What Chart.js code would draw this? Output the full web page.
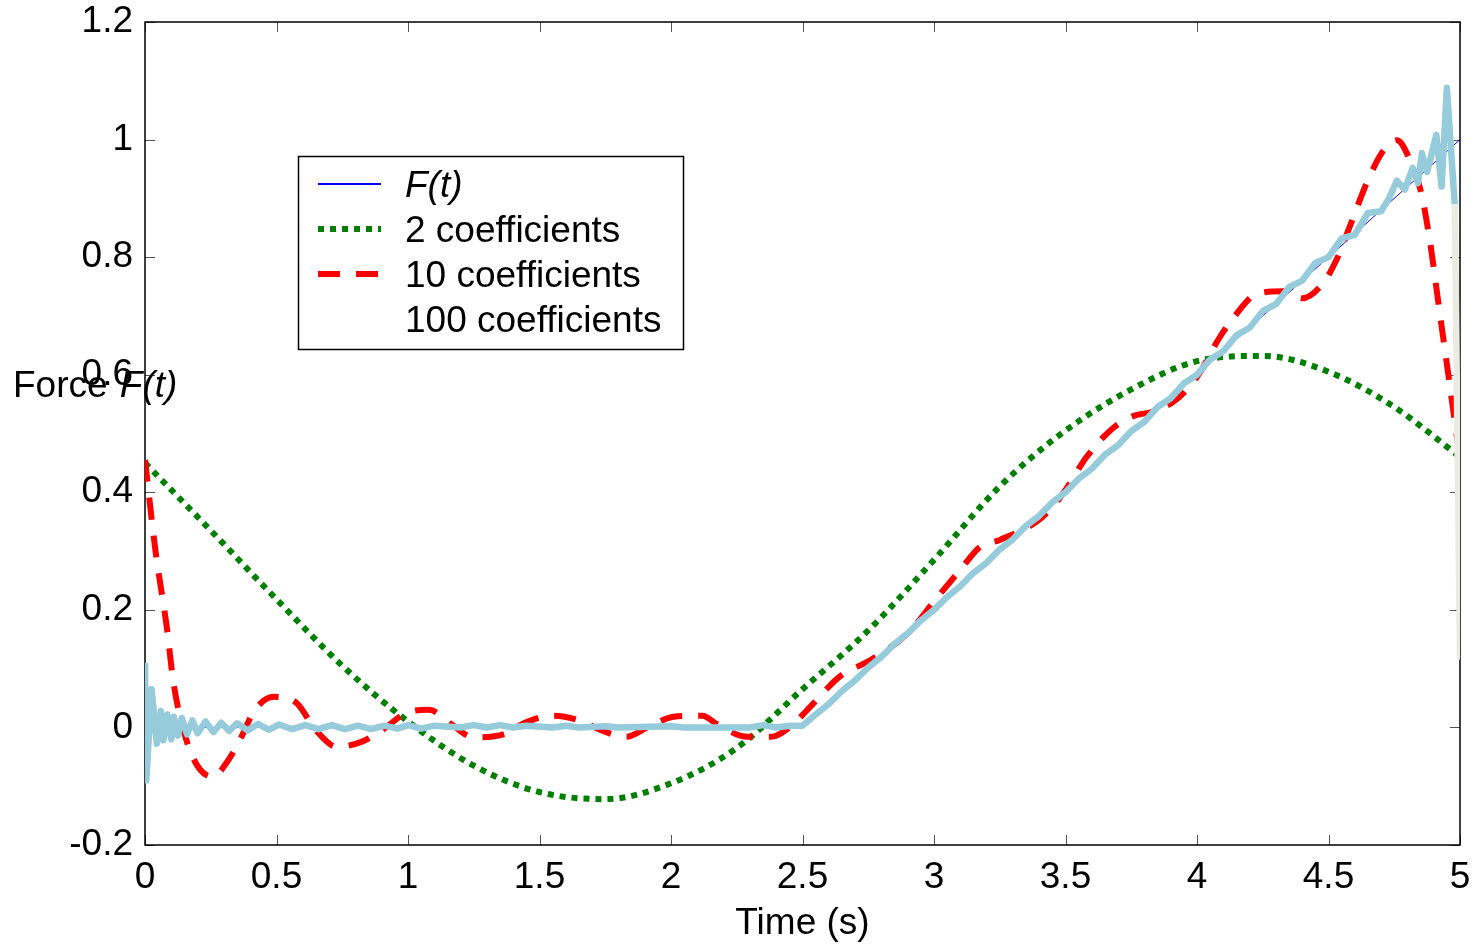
<!DOCTYPE html>
<html>
<head>
<meta charset="utf-8">
<script src="https://cdn.jsdelivr.net/npm/chart.js@4.4.0/dist/chart.umd.min.js"></script>
<style>
  body { margin: 0; background: #fff; }
  #wrap { width: 1477px; height: 948px; }
</style>
</head>
<body>
<div id="wrap"><canvas id="forceChart" width="1477" height="948"></canvas></div>
<script>
// F(t): zero, then a ramp up to 1
const timeExact = [0, 2.5, 5];
const forceExact = [0, 0, 1];

// 2 coefficients
const time2 = [0, 0.25, 0.5, 0.75, 1.0, 1.25, 1.5, 1.75, 2.0, 2.25, 2.5, 2.75, 3.0, 3.25, 3.5, 3.75, 4.0, 4.25, 4.5, 4.75, 5.0];
const force2 = [0.45, 0.335, 0.218, 0.105, 0.01, -0.065, -0.11, -0.122, -0.095, -0.035, 0.065, 0.165, 0.285, 0.41, 0.505, 0.575, 0.623, 0.632, 0.605, 0.545, 0.46];

// 10 coefficients
const time10 = [0, 0.04, 0.083, 0.107, 0.135, 0.17, 0.21, 0.26, 0.31, 0.36, 0.41, 0.45, 0.49, 0.54, 0.58, 0.65, 0.73, 0.82, 0.9, 1.0,
  1.08, 1.16, 1.25, 1.375, 1.44, 1.55, 1.665, 1.73, 1.83, 1.91, 2.01, 2.12, 2.17, 2.29, 2.38, 2.45, 2.54, 2.64, 2.76, 2.9,
  3.01, 3.1, 3.175, 3.25, 3.39, 3.45, 3.5, 3.58, 3.68, 3.76, 3.83, 3.91, 3.96, 4.01, 4.08, 4.14, 4.23, 4.33, 4.4, 4.48,
  4.53, 4.58, 4.65, 4.71, 4.76, 4.81, 4.85, 4.885, 4.92, 4.96, 5.0];
const force10 = [0.455, 0.30, 0.17, 0.08, 0.015, -0.038, -0.072, -0.084, -0.06, -0.022, 0.024, 0.045, 0.052, 0.05, 0.04, -0.005, -0.033, -0.025, -0.005, 0.026,
  0.03, 0.007, -0.017, -0.01, 0.007, 0.02, 0.01, -0.004, -0.016, 0, 0.018, 0.02, 0.007, -0.016, -0.016, 0, 0.04, 0.086, 0.115, 0.16,
  0.22, 0.268, 0.307, 0.319, 0.35, 0.375, 0.404, 0.46, 0.509, 0.53, 0.537, 0.554, 0.574, 0.603, 0.659, 0.698, 0.738, 0.742, 0.73, 0.756,
  0.795, 0.851, 0.931, 0.982, 0.999, 0.965, 0.914, 0.829, 0.715, 0.586, 0.455];

// 100 coefficients
const time100 = [0, 0.005, 0.025, 0.045, 0.06, 0.07, 0.085, 0.1, 0.11, 0.125, 0.14, 0.16, 0.18, 0.2, 0.23, 0.26, 0.29, 0.32, 0.35, 0.39,
  0.43, 0.47, 0.51, 0.56, 0.61, 0.66, 0.71, 0.76, 0.81, 0.86, 0.91, 0.96, 1.0, 1.05, 1.1, 1.2, 1.25, 1.3, 1.35, 1.4,
  1.45, 1.55, 1.6, 1.65, 1.75, 1.8, 2.0, 2.05, 2.3, 2.35, 2.4, 2.45, 2.5, 2.55, 2.6, 2.65, 2.7, 2.75, 2.8, 2.85,
  2.9, 2.95, 3.0, 3.05, 3.1, 3.15, 3.2, 3.25, 3.3, 3.35, 3.4, 3.45, 3.5, 3.55, 3.6, 3.65, 3.7, 3.75, 3.8, 3.85,
  3.9, 3.95, 4.0, 4.05, 4.1, 4.15, 4.2, 4.25, 4.3, 4.35, 4.4, 4.45, 4.5, 4.55, 4.6, 4.65, 4.7, 4.73, 4.76, 4.79,
  4.82, 4.84, 4.855, 4.875, 4.91, 4.93, 4.95, 4.98, 5.0];
const force100 = [0.11, -0.09, 0.065, -0.028, 0.028, -0.022, 0.022, -0.02, 0.018, -0.014, 0.016, -0.012, 0.012, -0.01, 0.01, -0.008, 0.008, -0.006, 0.007, -0.005,
  0.006, -0.004, 0.005, -0.003, 0.004, -0.003, 0.004, -0.003, 0.003, -0.003, 0.003, -0.002, 0.004, -0.002, 0.003, 0, 0.004, 0, 0.004, 0,
  0.003, 0, 0.003, 0, 0.002, 0, 0.002, 0, 0, 0.004, 0, 0.003, 0.003, 0.022, 0.04, 0.062, 0.08, 0.102, 0.12, 0.142,
  0.16, 0.182, 0.2, 0.222, 0.24, 0.263, 0.28, 0.303, 0.32, 0.343, 0.36, 0.383, 0.4, 0.423, 0.44, 0.464, 0.48, 0.504, 0.52, 0.545,
  0.56, 0.585, 0.6, 0.626, 0.64, 0.667, 0.68, 0.708, 0.72, 0.749, 0.76, 0.79, 0.8, 0.832, 0.838, 0.875, 0.878, 0.9, 0.93, 0.915,
  0.952, 0.926, 0.977, 0.945, 1.008, 0.92, 1.088, 0.89, 0.115];

const FONT = "'Liberation Sans', Arial, Helvetica, sans-serif";
const FONT_SIZE = 37;

function toPoints(xs, ys) {
    return xs.map((x, i) => ({ x: x, y: ys[i] }));
}

// 0.0 -> "0", 1.0 -> "1", like the original axes
function tickText(v) {
    return String(Number(v.toFixed(1)));
}

// keep the plot box where the original has it: no extra room for edge labels
function noEdgePadding(s) {
    s.paddingTop = 0;
    s.paddingBottom = 0;
    s.paddingLeft = 0;
    s.paddingRight = 0;
}

// Box with inward tick marks, the legend inside the plot and the y label
const frameAndLegend = {
    id: 'frameAndLegend',
    beforeDatasetsDraw(chart) {
        const { ctx, chartArea: a, scales } = chart;
        ctx.save();
        ctx.strokeStyle = '#555';
        ctx.lineWidth = 1;
        ctx.beginPath();
        scales.x.ticks.forEach(t => {
            const px = Math.round(scales.x.getPixelForValue(t.value)) + 0.5;
            ctx.moveTo(px, a.bottom); ctx.lineTo(px, a.bottom - 10);
            ctx.moveTo(px, a.top); ctx.lineTo(px, a.top + 10);
        });
        scales.y.ticks.forEach(t => {
            const py = Math.round(scales.y.getPixelForValue(t.value)) + 0.5;
            ctx.moveTo(a.left, py); ctx.lineTo(a.left + 10, py);
            ctx.moveTo(a.right, py); ctx.lineTo(a.right - 10, py);
        });
        ctx.stroke();
        ctx.strokeStyle = '#000';
        ctx.lineWidth = 1.5;
        ctx.strokeRect(a.left, a.top, a.right - a.left, a.bottom - a.top);
        ctx.restore();
    },
    afterDraw(chart) {
        const ctx = chart.ctx;
        ctx.save();

        // legend
        ctx.fillStyle = '#fff';
        ctx.fillRect(298, 156, 385, 193);
        ctx.strokeStyle = '#000';
        ctx.lineWidth = 1.5;
        ctx.strokeRect(298.5, 156.5, 385, 193);
        chart.data.datasets.forEach((ds, i) => {
            const y = 184 + i * 45;
            ctx.save();
            ctx.strokeStyle = ds.legendColor || ds.borderColor;
            ctx.lineWidth = ds.legendWidth || ds.borderWidth;
            ctx.setLineDash(ds.borderDash || []);
            ctx.beginPath();
            ctx.moveTo(318, y);
            ctx.lineTo(381, y);
            ctx.stroke();
            ctx.restore();
            ctx.fillStyle = '#000';
            ctx.textBaseline = 'alphabetic';
            ctx.font = (ds.legendItalic ? 'italic ' : '') + FONT_SIZE + 'px ' + FONT;
            ctx.fillText(ds.label, 405, y + 13);
        });

        // y axis label, horizontal, over the ticks as in the original
        ctx.fillStyle = '#000';
        ctx.textBaseline = 'alphabetic';
        ctx.font = FONT_SIZE + 'px ' + FONT;
        const head = 'Force ';
        ctx.fillText(head, 13, 397);
        const w = ctx.measureText(head).width;
        ctx.font = 'italic ' + FONT_SIZE + 'px ' + FONT;
        ctx.fillText('F(t)', 15 + w, 397);
        ctx.restore();
    }
};

new Chart(document.getElementById('forceChart'), {
    type: 'line',
    data: {
        datasets: [{
            label: 'F(t)',
            data: toPoints(timeExact, forceExact),
            borderColor: '#0000ff',
            borderWidth: 1,
            legendWidth: 2,
            legendItalic: true,
            order: 4
        }, {
            label: '2 coefficients',
            data: toPoints(time2, force2),
            borderColor: '#008000',
            borderWidth: 6,
            borderDash: [6, 6],
            cubicInterpolationMode: 'monotone',
            order: 3
        }, {
            label: '10 coefficients',
            data: toPoints(time10, force10),
            borderColor: '#ff0000',
            borderWidth: 6,
            borderDash: [22, 16],
            cubicInterpolationMode: 'monotone',
            order: 2
        }, {
            label: '100 coefficients',
            data: toPoints(time100, force100),
            borderColor: '#96cbdb',
            borderWidth: 6.5,
            legendColor: '#ffffff',  // sample line is not visible in the original
            segment: {
                borderColor: c => c.p1DataIndex === time100.length - 1 ? '#ecebe3' : undefined
            },
            order: 1
        }]
    },
    options: {
        responsive: false,
        animation: false,
        devicePixelRatio: 1,
        layout: { padding: { top: 22, right: 17, bottom: 0, left: 0 } },
        elements: {
            point: { radius: 0 },
            line: { tension: 0, borderCapStyle: 'butt', borderJoinStyle: 'round' }
        },
        plugins: {
            legend: { display: false },
            tooltip: { enabled: false }
        },
        scales: {
            x: {
                type: 'linear',
                min: 0,
                max: 5,
                afterFit: s => { s.height = 103; noEdgePadding(s); },
                grid: { display: false, drawTicks: false },
                border: { display: false },
                ticks: {
                    stepSize: 0.5,
                    autoSkip: false,
                    maxRotation: 0,
                    padding: 11,
                    color: '#000',
                    font: { family: FONT, size: FONT_SIZE },
                    callback: v => tickText(v)
                },
                title: {
                    display: true,
                    text: 'Time (s)',
                    color: '#000',
                    font: { family: FONT, size: FONT_SIZE },
                    padding: { top: 0, bottom: 2 }
                }
            },
            y: {
                type: 'linear',
                min: -0.2,
                max: 1.2,
                afterFit: s => { s.width = 145; noEdgePadding(s); },
                grid: { display: false, drawTicks: false },
                border: { display: false },
                ticks: {
                    stepSize: 0.2,
                    padding: 12,
                    color: '#000',
                    font: { family: FONT, size: FONT_SIZE },
                    callback: v => tickText(v)
                }
            }
        }
    },
    plugins: [frameAndLegend]
});
</script>
</body>
</html>
